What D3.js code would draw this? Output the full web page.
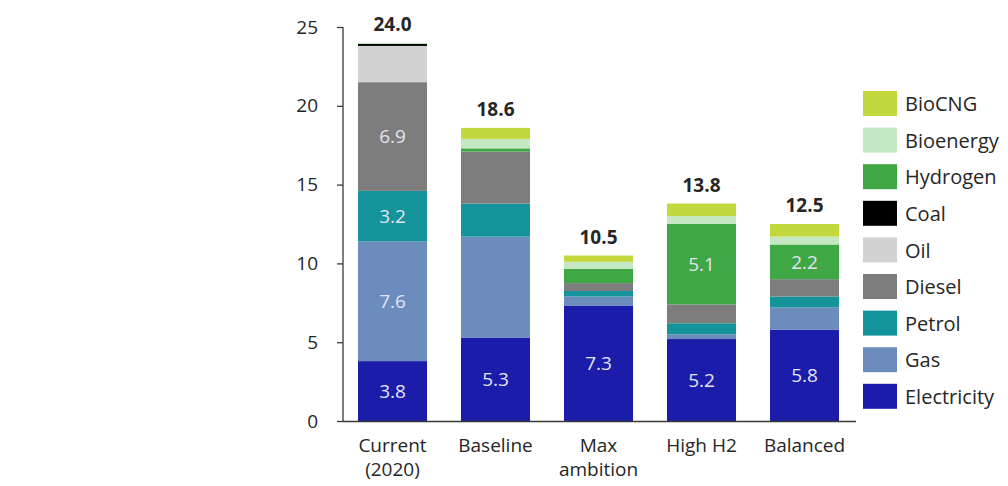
<!DOCTYPE html>
<html>
<head>
<meta charset="utf-8">
<script src="https://cdn.jsdelivr.net/npm/d3@7"></script>
<style>
  html, body { margin: 0; padding: 0; background: #ffffff; }
  svg { display: block; font-family: "Open Sans", "Noto Sans", sans-serif; }
</style>
</head>
<body>
<svg id="chart" width="1008" height="486"></svg>
<script>
// Scenarios along the x axis (label lines)
const scenarios = ["Current (2020)", "Baseline", "Max ambition", "High H2", "Balanced"];
const scenarioLines = [["Current", "(2020)"], ["Baseline"], ["Max", "ambition"], ["High H2"], ["Balanced"]];

// Energy carriers, stacked bottom to top
const carriers = ["Electricity", "Gas", "Petrol", "Diesel", "Oil", "Coal", "Hydrogen", "Bioenergy", "BioCNG"];
const carrierColors = ["#1c1cab", "#6b8cbd", "#14939b", "#7d7d7d", "#d2d2d2", "#000000", "#3fa744", "#c4e8c2", "#c3d83c"];

// Values per carrier, one entry per scenario
const electricity = [3.8, 5.3, 7.3, 5.2, 5.8];
const gas         = [7.6, 6.4, 0.6, 0.3, 1.4];
const petrol      = [3.2, 2.1, 0.35, 0.7, 0.7];
const diesel      = [6.9, 3.3, 0.5, 1.2, 1.1];
const oil         = [2.3, 0, 0, 0, 0];
const coal        = [0.13, 0, 0, 0, 0];
const hydrogen    = [0, 0.2, 0.9, 5.1, 2.2];
const bioenergy   = [0.07, 0.6, 0.45, 0.5, 0.5];
const bioCNG      = [0, 0.7, 0.4, 0.8, 0.8];

// Segments that carry a value label: [scenario index, carrier]
const labelledSegments = [
  [0, "Electricity"], [0, "Gas"], [0, "Petrol"], [0, "Diesel"],
  [1, "Electricity"], [2, "Electricity"],
  [3, "Electricity"], [3, "Hydrogen"],
  [4, "Electricity"], [4, "Hydrogen"]
];

// Axis ticks
const yTicks = [0, 5, 10, 15, 20, 25];

const seriesValues = [electricity, gas, petrol, diesel, oil, coal, hydrogen, bioenergy, bioCNG];
const rows = scenarios.map((s, i) => {
  const r = { scenario: s, idx: i };
  carriers.forEach((c, k) => { r[c] = seriesValues[k][i]; });
  return r;
});

const svg = d3.select("#chart");
const axisColor = "#3a3a3a";
const textColor = "#262626";
const fontFamily = "'Open Sans', 'Noto Sans', sans-serif";

const x = d3.scaleBand()
  .domain(scenarios)
  .range([341, 856])
  .paddingInner(0.33)
  .paddingOuter(0.165);

const y = d3.scaleLinear().domain([0, 25]).range([421, 27]);

const color = d3.scaleOrdinal().domain(carriers).range(carrierColors);

const stack = d3.stack().keys(carriers);
const layers = stack(rows);

// Stacked bars
const g = svg.append("g");
g.selectAll("g.layer")
  .data(layers)
  .join("g")
  .attr("class", "layer")
  .attr("fill", d => color(d.key))
  .selectAll("rect")
  .data(d => d.filter(p => p[1] - p[0] > 0))
  .join("rect")
  .attr("x", d => x(d.data.scenario))
  .attr("width", x.bandwidth())
  .attr("y", d => y(d[1]))
  .attr("height", d => y(d[0]) - y(d[1]));

// Value labels inside segments
const labelled = new Set(labelledSegments.map(([i, c]) => i + "|" + c));
layers.forEach(layer => {
  layer.forEach((p, i) => {
    if (!labelled.has(i + "|" + layer.key)) return;
    const v = p[1] - p[0];
    g.append("text")
      .attr("x", x(p.data.scenario) + x.bandwidth() / 2)
      .attr("y", y((p[0] + p[1]) / 2))
      .attr("dy", "0.36em")
      .attr("text-anchor", "middle")
      .attr("font-size", 19)
      .attr("fill", "#e2e4f2")
      .text(d3.format(".1f")(v));
  });
});

// Totals above bars
rows.forEach(r => {
  const total = d3.sum(carriers, c => r[c]);
  g.append("text")
    .attr("x", x(r.scenario) + x.bandwidth() / 2)
    .attr("y", y(total) - 12)
    .attr("text-anchor", "middle")
    .attr("font-size", 19)
    .attr("font-weight", "bold")
    .attr("fill", textColor)
    .text(d3.format(".1f")(total));
});

// Y axis
const yAxis = svg.append("g")
  .attr("transform", "translate(343,0)")
  .call(d3.axisLeft(y).tickValues(yTicks).tickSize(6).tickPadding(19).tickFormat(d3.format("d")));
yAxis.select(".domain").attr("stroke", axisColor).attr("stroke-width", 1.3).attr("d", "M0," + y(25) + "V" + y(0));
yAxis.selectAll(".tick line").attr("stroke", axisColor).attr("stroke-width", 1.3);
yAxis.selectAll(".tick text").attr("font-size", 19).attr("fill", textColor).attr("font-family", fontFamily);

// X axis baseline and category labels
const xAxis = svg.append("g")
  .attr("transform", "translate(0," + y(0) + ")")
  .call(d3.axisBottom(x).tickSize(0).tickFormat(""));
xAxis.select(".domain").attr("stroke", axisColor).attr("stroke-width", 1.3).attr("d", "M343,0.5H856");

scenarios.forEach((s, i) => {
  const t = svg.append("text")
    .attr("x", x(s) + x.bandwidth() / 2)
    .attr("y", 452)
    .attr("text-anchor", "middle")
    .attr("font-size", 19)
    .attr("fill", textColor);
  scenarioLines[i].forEach((line, j) => {
    t.append("tspan")
      .attr("x", x(s) + x.bandwidth() / 2)
      .attr("dy", j === 0 ? 0 : 24)
      .text(line);
  });
});

// Legend, top entry is the top of the stack
const legendItems = carriers.slice().reverse();
const legend = svg.append("g").attr("transform", "translate(863,91)");
legendItems.forEach((c, i) => {
  const row = legend.append("g").attr("transform", "translate(0," + (i * 36.6) + ")");
  row.append("rect").attr("width", 34).attr("height", 25).attr("fill", color(c));
  row.append("text")
    .attr("x", 42)
    .attr("y", 13)
    .attr("dy", "0.36em")
    .attr("font-size", 20)
    .attr("fill", textColor)
    .text(c);
});
</script>
</body>
</html>
